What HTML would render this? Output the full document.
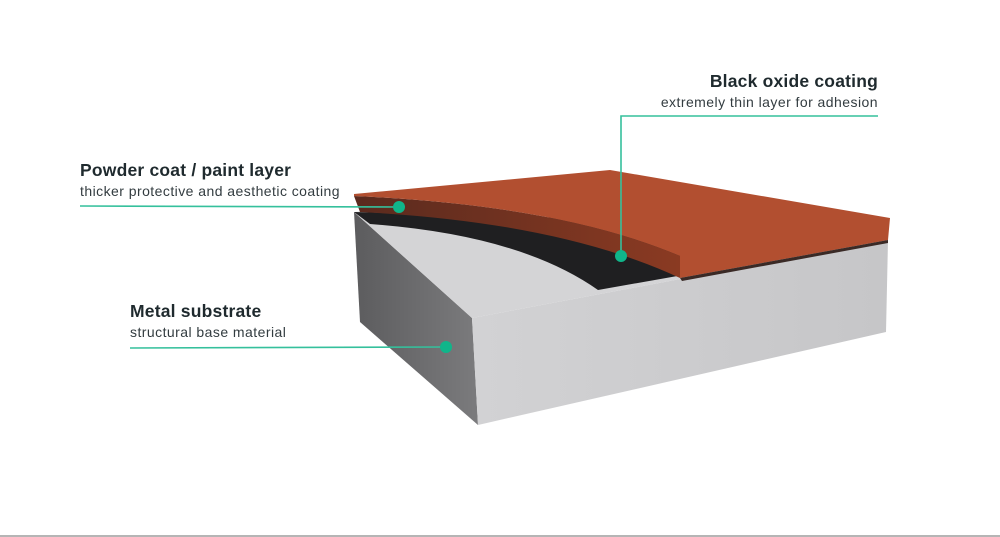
<!DOCTYPE html>
<html><head><meta charset="utf-8"><style>
html,body{margin:0;padding:0;background:#fff}
svg{display:block}
text{font-family:"Liberation Sans",sans-serif;fill:#1f2a2e}
.t{font-size:17.5px;font-weight:bold;letter-spacing:0.2px}
.s{font-size:14px;fill:#333c40;letter-spacing:0.45px}
</style></head><body>
<svg width="1000" height="537" viewBox="0 0 1000 537">
<defs>
<linearGradient id="lf" x1="0" y1="0" x2="1" y2="0"><stop offset="0" stop-color="#5c5c5e"/><stop offset="1" stop-color="#7b7b7d"/></linearGradient>
<linearGradient id="ff" x1="0" y1="0" x2="1" y2="0"><stop offset="0" stop-color="#d2d2d4"/><stop offset="1" stop-color="#c6c6c8"/></linearGradient>
<linearGradient id="oe" x1="0" y1="0" x2="1" y2="0"><stop offset="0" stop-color="#5a2a1e"/><stop offset="1" stop-color="#8a3a22"/></linearGradient>
</defs>
<polygon points="354,212 472,318 478,425 360,322" fill="url(#lf)"/>
<polygon points="472,318 888,240 886,332 478,425" fill="url(#ff)"/>
<polygon points="354,212 620,188 888,240 472,318" fill="#d4d4d6"/>
<path d="M354,212 L370,224 Q520,235 598,290 L700,272 L640,220 Z" fill="#1f1f21"/>
<path d="M354,196 Q560,205 680,256 L680,278 Q560,222 360,212 Z" fill="url(#oe)"/>
<path d="M354,194 L610,170 L890,218 L888,240 L680,278 L680,256 Q560,205 354,196 Z" fill="#b24f30"/>
<path d="M680,278 L888,240 L888,243 L682,281 Z" fill="#3a2a26"/>
<g stroke="#35c09c" stroke-width="1.6" fill="none">
<line x1="80" y1="206" x2="399" y2="207"/>
<polyline points="621,256 621,116 878,116"/>
<line x1="130" y1="348" x2="446" y2="347"/>
</g>
<g fill="#10b58a">
<circle cx="399" cy="207" r="6"/>
<circle cx="621" cy="256" r="6"/>
<circle cx="446" cy="347" r="6"/>
</g>
<text class="t" x="80" y="176">Powder coat / paint layer</text>
<text class="s" x="80" y="196">thicker protective and aesthetic coating</text>
<text class="t" x="878" y="87" text-anchor="end">Black oxide coating</text>
<text class="s" x="878" y="107" text-anchor="end">extremely thin layer for adhesion</text>
<text class="t" x="130" y="317">Metal substrate</text>
<text class="s" x="130" y="337">structural base material</text>
<rect x="0" y="535" width="1000" height="2" fill="#b5b5b5"/>
</svg>
</body></html>
